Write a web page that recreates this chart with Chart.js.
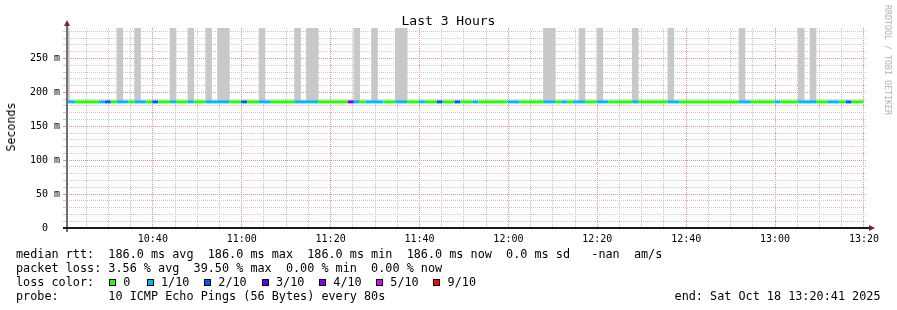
<!DOCTYPE html>
<html lang="en">
<head>
<meta charset="UTF-8">
<title>Last 3 Hours</title>
<script src="https://cdn.jsdelivr.net/npm/chart.js@4.4.0/dist/chart.umd.min.js"></script>
<style>
    body { margin: 0; background: #fff; }
    .wrap { position: relative; width: 897px; height: 310px; font-family: "DejaVu Sans Mono", monospace; color: #000; }
    canvas { position: absolute; left: 0; top: 0; }
    .t { position: absolute; white-space: pre; font-size: 11.8px; line-height: 14px; }
    .t.right { text-align: right; }
    .title { position: absolute; left: 0; top: 12.5px; width: 897px; text-align: center; font-size: 13px; line-height: 16px; }
    .ylabel { position: absolute; left: 11px; top: 127px; font-size: 11.66px; line-height: 14px; white-space: pre;
              transform: translate(-50%, -50%) rotate(-90deg); }
    .credit { position: absolute; left: 888px; top: 60px; font-size: 8.3px; line-height: 10px; white-space: pre; color: #b0b0b0;
              transform: translate(-50%, -50%) rotate(90deg); }
    .box { position: absolute; width: 5px; height: 5px; border: 1px solid #000; }
</style>
</head>
<body>
<div class="wrap" id="wrap">
    <canvas id="chart" width="897" height="310"></canvas>
    <div class="title">Last 3 Hours</div>
    <div class="ylabel">Seconds</div>
    <div class="credit">RRDTOOL / TOBI OETIKER</div>
</div>
<script>
// x axis in minutes after 10:00
const xTickLabels = ['10:40', '11:00', '11:20', '11:40', '12:00', '12:20', '12:40', '13:00', '13:20'];
const yTickLabels = ['0', '50 m', '100 m', '150 m', '200 m', '250 m'];

const lossLabels = ['0', '1/10', '2/10', '3/10', '4/10', '5/10', '9/10'];
const lossBins = [0, 1, 2, 3, 4, 5, 9];
const lossColors = ['#26ff00', '#00b8ff', '#0059ff', '#5e00ff', '#7e00ff', '#dd00ff', '#ff0000'];

const rangeStart = '10:20:41';
const rangeEnd = '13:20:41';
const firstStep = '10:19:53';
const stepSeconds = 80;

// median rtt per 80 s step (ms)
const medianRtt = [
    186, 186, 186, 186, 186, 186, 186, 186, 186, 186,
    186, 186, 186, 186, 186, 186, 186, 186, 186, 186,
    186, 186, 186, 186, 186, 186, 186, 186, 186, 186,
    186, 186, 186, 186, 186, 186, 186, 186, 186, 186,
    186, 186, 186, 186, 186, 186, 186, 186, 186, 186,
    186, 186, 186, 186, 186, 186, 186, 186, 186, 186,
    186, 186, 186, 186, 186, 186, 186, 186, 186, 186,
    186, 186, 186, 186, 186, 186, 186, 186, 186, 186,
    186, 186, 186, 186, 186, 186, 186, 186, 186, 186,
    186, 186, 186, 186, 186, 186, 186, 186, 186, 186,
    186, 186, 186, 186, 186, 186, 186, 186, 186, 186,
    186, 186, 186, 186, 186, 186, 186, 186, 186, 186,
    186, 186, 186, 186, 186, 186, 186, 186, 186, 186,
    186, 186, 186, 186, 186
];

// lost pings out of 10 per step
const lostPings = [
    1, 1, 0, 0, 0, 0, 1, 2, 0, 1,
    1, 0, 1, 1, 0, 2, 0, 0, 1, 0,
    0, 1, 0, 0, 1, 1, 1, 1, 0, 0,
    2, 0, 0, 1, 1, 0, 0, 0, 0, 1,
    1, 1, 1, 0, 0, 0, 0, 0, 4, 1,
    0, 1, 1, 1, 0, 0, 1, 1, 0, 0,
    1, 0, 0, 2, 0, 0, 2, 0, 0, 1,
    0, 0, 0, 0, 0, 1, 1, 0, 0, 0,
    0, 1, 1, 0, 1, 0, 1, 1, 0, 0,
    1, 1, 0, 0, 0, 0, 1, 0, 0, 0,
    0, 0, 1, 1, 0, 0, 0, 0, 0, 0,
    0, 0, 0, 0, 1, 1, 0, 0, 0, 0,
    1, 0, 0, 0, 1, 1, 1, 0, 0, 1,
    1, 0, 2, 0, 0
];

// steps whose ping spread (smoke) runs off the top of the graph, and its top (ms)
const smokeSteps = [0, 9, 12, 18, 21, 24, 26, 27, 33, 39, 41, 42, 49, 52, 56, 57, 81, 82, 87, 90, 96, 102, 114, 124, 126];
const smokeTop = 300;

const yMax = 295;

function toMinutes(hms) {
    const [h, m, s] = hms.split(':').map(Number);
    return (h - 10) * 60 + m + s / 60;
}

const xMin = toMinutes(rangeStart);
const xMax = toMinutes(rangeEnd);
const stepMin = stepSeconds / 60;
const stepStart = i => toMinutes(firstStep) + i * stepMin;

function lossColor(n) {
    let idx = 0;
    lossBins.forEach((b, i) => { if (n >= b) idx = i; });
    return lossColors[idx];
}

// line points on step edges, value held across the step
const linePoints = medianRtt.map((v, i) => ({ x: stepStart(i), y: v }));
linePoints.push({ x: stepStart(medianRtt.length), y: medianRtt[medianRtt.length - 1] });

const smokeBars = medianRtt.map((v, i) => ({
    x: stepStart(i) + stepMin / 2,
    y: smokeSteps.includes(i) ? [v, smokeTop] : null
}));

const xTickValues = [];
for (let v = 25; v <= 200; v += 5) xTickValues.push(v);
const yTickValues = [];
for (let v = 0; v <= 290; v += 10) yTickValues.push(v);

const minorGrid = '#c8c8c8';
const majorGrid = '#f08c8c';

const axesPlugin = {
    id: 'rrdAxes',
    afterDatasetsDraw(chart) {
        const { ctx, chartArea: a } = chart;
        ctx.save();
        // y axis
        ctx.fillStyle = '#707070';
        ctx.fillRect(a.left - 1, a.top - 2, 2, a.bottom - a.top + 6);
        // x axis
        ctx.fillStyle = '#1a1a1a';
        ctx.fillRect(a.left - 4, a.bottom - 1, a.right - a.left + 8, 2);
        // arrows
        ctx.fillStyle = '#8a1f1f';
        ctx.beginPath();
        ctx.moveTo(a.left - 3, a.top - 2);
        ctx.lineTo(a.left + 3, a.top - 2);
        ctx.lineTo(a.left, a.top - 8);
        ctx.closePath();
        ctx.fill();
        ctx.beginPath();
        ctx.moveTo(a.right + 2, a.bottom - 3);
        ctx.lineTo(a.right + 2, a.bottom + 3);
        ctx.lineTo(a.right + 8, a.bottom);
        ctx.closePath();
        ctx.fill();
        ctx.restore();
    }
};

Chart.defaults.font.family = '"DejaVu Sans Mono", monospace';
Chart.defaults.font.size = 10;
Chart.defaults.color = '#000';

new Chart(document.getElementById('chart'), {
    type: 'line',
    data: {
        datasets: [{
            type: 'line',
            label: 'median rtt',
            data: linePoints,
            order: 0,
            stepped: 'after',
            borderWidth: 3,
            borderCapStyle: 'butt',
            pointRadius: 0,
            clip: 0,
            segment: {
                borderColor: c => lossColor(lostPings[c.p0DataIndex])
            }
        }, {
            type: 'bar',
            label: 'smoke',
            data: smokeBars,
            order: 1,
            backgroundColor: '#c8c8c8',
            borderWidth: 0,
            barPercentage: 1,
            categoryPercentage: 1,
            grouped: false,
            clip: 0
        }]
    },
    options: {
        responsive: false,
        animation: false,
        devicePixelRatio: 1,
        layout: { padding: { left: 0, right: 30, top: 28, bottom: 62 } },
        plugins: { legend: { display: false }, tooltip: { enabled: false }, title: { display: false } },
        scales: {
            x: {
                type: 'linear',
                min: xMin,
                max: xMax,
                offset: false,
                afterBuildTicks: s => { s.ticks = xTickValues.map(v => ({ value: v })); },
                afterFit: s => { s.height = 20; },
                ticks: {
                    autoSkip: false,
                    maxRotation: 0,
                    padding: 5,
                    callback: v => (v % 20 === 0 ? xTickLabels[(v - 40) / 20] : '')
                },
                grid: {
                    offset: false,
                    drawTicks: false,
                    lineWidth: 1,
                    color: c => (c.tick && c.tick.value % 20 === 0 ? majorGrid : minorGrid)
                },
                border: { display: false, dash: [1, 1] }
            },
            y: {
                type: 'linear',
                min: 0,
                max: yMax,
                afterBuildTicks: s => { s.ticks = yTickValues.map(v => ({ value: v })); },
                afterFit: s => { s.width = 67; },
                ticks: {
                    autoSkip: false,
                    padding: 3,
                    // "0" sits in the number column, left of the unit
                    callback: v => (v % 50 !== 0 ? '' : v === 0 ? yTickLabels[0] + '  ' : yTickLabels[v / 50])
                },
                grid: {
                    drawTicks: true,
                    tickLength: 4,
                    lineWidth: 1,
                    color: c => (c.tick && c.tick.value % 50 === 0 ? majorGrid : minorGrid),
                    tickColor: c => (c.tick && c.tick.value % 50 === 0 ? majorGrid : minorGrid)
                },
                border: { display: false, dash: [1, 1] }
            }
        }
    },
    plugins: [axesPlugin]
});

// text legend under the graph
const wrap = document.getElementById('wrap');
function addText(x, baseline, text, right) {
    const el = document.createElement('div');
    el.className = right ? 't right' : 't';
    if (right) el.style.right = (897 - x) + 'px';
    else el.style.left = x + 'px';
    el.style.top = (baseline - 11.1) + 'px';
    el.textContent = text;
    wrap.appendChild(el);
}

const rttLine = 'median rtt:  186.0 ms avg  186.0 ms max  186.0 ms min  186.0 ms now  0.0 ms sd   -nan  am/s';
const lossLine = 'packet loss: 3.56 % avg  39.50 % max  0.00 % min  0.00 % now';
const probeLine = 'probe:       10 ICMP Echo Pings (56 Bytes) every 80s';
const endText = 'end: Sat Oct 18 13:20:41 2025';

addText(16, 258.3, rttLine);
addText(16, 272, lossLine);
addText(16, 285.7, 'loss color:');
const boxX = [109, 146.7, 204, 261.7, 319, 376, 433.3];
lossLabels.forEach((lab, i) => {
    const b = document.createElement('div');
    b.className = 'box';
    b.style.left = boxX[i] + 'px';
    b.style.top = '279px';
    b.style.background = lossColors[i];
    wrap.appendChild(b);
    addText(boxX[i] + 14.3, 285.7, lab);
});
addText(16, 300, probeLine);
addText(880.5, 300, endText, true);
</script>
</body>
</html>
